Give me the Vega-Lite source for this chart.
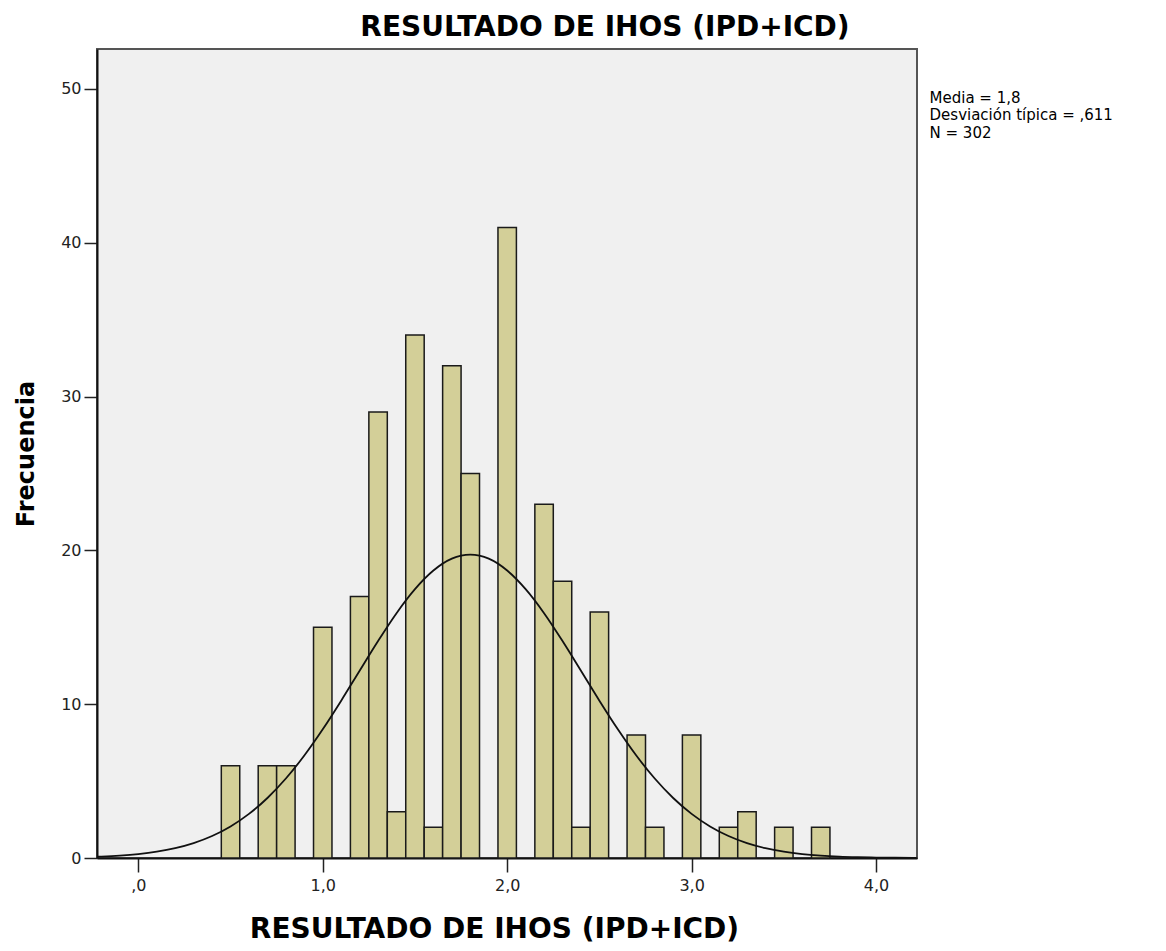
{
  "$schema": "https://vega.github.io/schema/vega-lite/v6.json",
  "width": 820,
  "height": 809,
  "autosize": {"type": "none"},
  "padding": {"left": 97, "top": 49, "right": 249, "bottom": 93},
  "background": "white",
  "config": {
    "view": {"fill": "#F0F0F0", "stroke": "#555555", "strokeWidth": 2},
    "font": "DejaVu Sans"
  },
  "title": {
    "text": "RESULTADO DE IHOS (IPD+ICD)",
    "font": "DejaVu Sans",
    "fontSize": 28,
    "fontWeight": "bold",
    "color": "#000000",
    "anchor": "middle",
    "dx": 98,
    "offset": 7
  },
  "datasets": {
    "bars": [
      {"value": 0.5, "bin_start": 0.45, "bin_end": 0.55, "count": 6},
      {"value": 0.7, "bin_start": 0.65, "bin_end": 0.75, "count": 6},
      {"value": 0.8, "bin_start": 0.75, "bin_end": 0.85, "count": 6},
      {"value": 1.0, "bin_start": 0.95, "bin_end": 1.05, "count": 15},
      {"value": 1.2, "bin_start": 1.15, "bin_end": 1.25, "count": 17},
      {"value": 1.3, "bin_start": 1.25, "bin_end": 1.35, "count": 29},
      {"value": 1.4, "bin_start": 1.35, "bin_end": 1.45, "count": 3},
      {"value": 1.5, "bin_start": 1.45, "bin_end": 1.55, "count": 34},
      {"value": 1.6, "bin_start": 1.55, "bin_end": 1.65, "count": 2},
      {"value": 1.7, "bin_start": 1.65, "bin_end": 1.75, "count": 32},
      {"value": 1.8, "bin_start": 1.75, "bin_end": 1.85, "count": 25},
      {"value": 2.0, "bin_start": 1.95, "bin_end": 2.05, "count": 41},
      {"value": 2.2, "bin_start": 2.15, "bin_end": 2.25, "count": 23},
      {"value": 2.3, "bin_start": 2.25, "bin_end": 2.35, "count": 18},
      {"value": 2.4, "bin_start": 2.35, "bin_end": 2.45, "count": 2},
      {"value": 2.5, "bin_start": 2.45, "bin_end": 2.55, "count": 16},
      {"value": 2.7, "bin_start": 2.65, "bin_end": 2.75, "count": 8},
      {"value": 2.8, "bin_start": 2.75, "bin_end": 2.85, "count": 2},
      {"value": 3.0, "bin_start": 2.95, "bin_end": 3.05, "count": 8},
      {"value": 3.2, "bin_start": 3.15, "bin_end": 3.25, "count": 2},
      {"value": 3.3, "bin_start": 3.25, "bin_end": 3.35, "count": 3},
      {"value": 3.5, "bin_start": 3.45, "bin_end": 3.55, "count": 2},
      {"value": 3.7, "bin_start": 3.65, "bin_end": 3.75, "count": 2}
    ],
    "curve": [
      {"x": -0.22, "density": 0.083},
      {"x": -0.2, "density": 0.093},
      {"x": -0.1, "density": 0.157},
      {"x": 0.0, "density": 0.257},
      {"x": 0.1, "density": 0.411},
      {"x": 0.2, "density": 0.640},
      {"x": 0.3, "density": 0.969},
      {"x": 0.4, "density": 1.429},
      {"x": 0.5, "density": 2.051},
      {"x": 0.6, "density": 2.867},
      {"x": 0.7, "density": 3.901},
      {"x": 0.8, "density": 5.167},
      {"x": 0.9, "density": 6.663},
      {"x": 1.0, "density": 8.369},
      {"x": 1.1, "density": 10.23},
      {"x": 1.2, "density": 12.18},
      {"x": 1.3, "density": 14.11},
      {"x": 1.4, "density": 15.92},
      {"x": 1.5, "density": 17.48},
      {"x": 1.6, "density": 18.69},
      {"x": 1.7, "density": 19.46},
      {"x": 1.8, "density": 19.72},
      {"x": 1.9, "density": 19.46},
      {"x": 2.0, "density": 18.69},
      {"x": 2.1, "density": 17.48},
      {"x": 2.2, "density": 15.92},
      {"x": 2.3, "density": 14.11},
      {"x": 2.4, "density": 12.18},
      {"x": 2.5, "density": 10.23},
      {"x": 2.6, "density": 8.369},
      {"x": 2.7, "density": 6.663},
      {"x": 2.8, "density": 5.167},
      {"x": 2.9, "density": 3.901},
      {"x": 3.0, "density": 2.867},
      {"x": 3.1, "density": 2.051},
      {"x": 3.2, "density": 1.429},
      {"x": 3.3, "density": 0.969},
      {"x": 3.4, "density": 0.640},
      {"x": 3.5, "density": 0.411},
      {"x": 3.6, "density": 0.257},
      {"x": 3.7, "density": 0.157},
      {"x": 3.8, "density": 0.093},
      {"x": 3.9, "density": 0.054},
      {"x": 4.0, "density": 0.030},
      {"x": 4.1, "density": 0.017},
      {"x": 4.2, "density": 0.009},
      {"x": 4.22, "density": 0.008}
    ],
    "stats": [
      {"label": "Media = 1,8\nDesviación típica = ,611\nN = 302"}
    ]
  },
  "layer": [
    {
      "data": {"name": "bars"},
      "mark": {"type": "rect", "fill": "#D3CF98", "stroke": "#1a1a1a", "strokeWidth": 1.5},
      "encoding": {
        "x": {
          "field": "bin_start",
          "type": "quantitative",
          "scale": {"domain": [-0.224, 4.222], "nice": false, "zero": false},
          "axis": {
            "title": "RESULTADO DE IHOS (IPD+ICD)",
            "values": [0, 1, 2, 3, 4],
            "labelExpr": "datum.value == 0 ? ',0' : replace(format(datum.value, '.1f'), '.', ',')",
            "grid": false,
            "tickSize": 14,
            "tickWidth": 1.5,
            "tickColor": "#222222",
            "domainColor": "#111111",
            "domainWidth": 2,
            "labelFont": "DejaVu Sans",
            "labelFontSize": 16,
            "labelColor": "#222222",
            "labelPadding": 5,
            "titleFont": "DejaVu Sans",
            "titleFontSize": 28,
            "titleFontWeight": "bold",
            "titleColor": "#000000",
            "titlePadding": 22,
            "titleX": 397
          }
        },
        "x2": {"field": "bin_end"},
        "y": {
          "field": "count",
          "type": "quantitative",
          "scale": {"domain": [0, 52.6], "nice": false},
          "axis": {
            "title": "Frecuencia",
            "values": [0, 10, 20, 30, 40, 50],
            "grid": false,
            "tickSize": 13,
            "tickWidth": 1.5,
            "tickColor": "#222222",
            "domainColor": "#111111",
            "domainWidth": 2,
            "labelFont": "DejaVu Sans",
            "labelFontSize": 16,
            "labelColor": "#222222",
            "labelPadding": 3,
            "titleFont": "DejaVu Sans",
            "titleFontSize": 24,
            "titleFontWeight": "bold",
            "titleColor": "#000000",
            "titlePadding": 22
          }
        },
        "y2": {"datum": 0}
      }
    },
    {
      "data": {"name": "curve"},
      "mark": {"type": "line", "color": "#111111", "strokeWidth": 1.8, "interpolate": "monotone", "clip": true},
      "encoding": {
        "x": {"field": "x", "type": "quantitative"},
        "y": {"field": "density", "type": "quantitative"}
      }
    },
    {
      "data": {"name": "stats"},
      "mark": {"type": "text", "align": "left", "baseline": "top", "lineBreak": "\n", "font": "DejaVu Sans", "fontSize": 15, "lineHeight": 17.5, "color": "#000000"},
      "encoding": {
        "x": {"datum": 4.29},
        "y": {"datum": 49.9},
        "text": {"field": "label"}
      }
    }
  ]
}
